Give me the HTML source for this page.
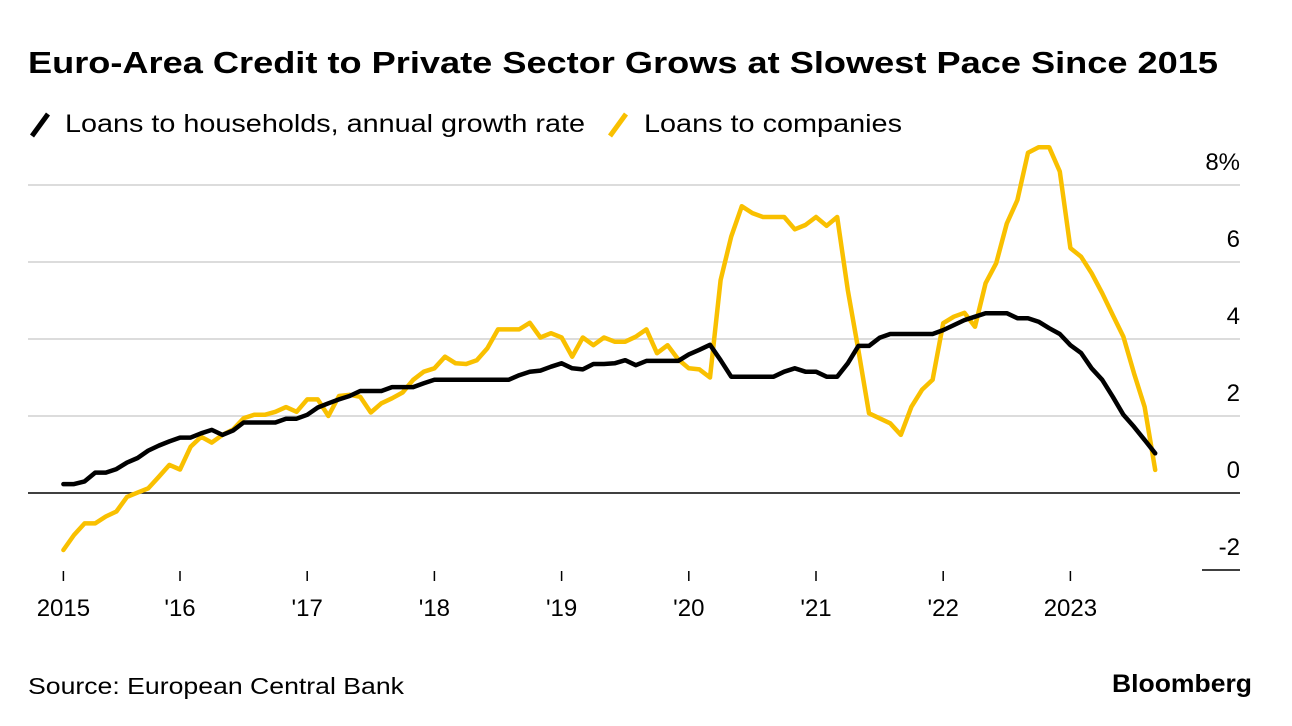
<!DOCTYPE html>
<html><head><meta charset="utf-8"><style>
html,body{margin:0;padding:0;background:#fff;}
svg{display:block;font-family:"Liberation Sans",Arial,sans-serif;}
</style></head><body>
<svg id="chart" width="1292" height="726" viewBox="0 0 1292 726" xmlns="http://www.w3.org/2000/svg">
<text x="28" y="73" font-size="31" font-weight="bold" fill="#000" textLength="1190" lengthAdjust="spacingAndGlyphs">Euro-Area Credit to Private Sector Grows at Slowest Pace Since 2015</text>
<g>
<line x1="32" y1="136" x2="48" y2="114" stroke="#000" stroke-width="5"/>
<text x="65" y="132" font-size="25" fill="#000" textLength="520" lengthAdjust="spacingAndGlyphs">Loans to households, annual growth rate</text>
<line x1="610" y1="136" x2="626" y2="114" stroke="#f9c000" stroke-width="5"/>
<text x="644" y="132" font-size="25" fill="#000" textLength="258" lengthAdjust="spacingAndGlyphs">Loans to companies</text>
</g>
<g id="grid"></g>
<g id="xaxis"></g>
<g id="series"></g>
<text x="28" y="694" font-size="23" fill="#000" textLength="376" lengthAdjust="spacingAndGlyphs">Source: European Central Bank</text>
<text x="1252" y="692" font-size="25" font-weight="bold" fill="#000" text-anchor="end" textLength="140" lengthAdjust="spacingAndGlyphs">Bloomberg</text>
</svg>
<script>
const households = [0.23,0.23,0.30,0.53,0.53,0.62,0.79,0.91,1.10,1.23,1.34,1.44,1.44,1.55,1.64,1.51,1.62,1.83,1.83,1.83,1.83,1.93,1.93,2.03,2.22,2.33,2.43,2.52,2.65,2.65,2.65,
2.75,2.75,2.75,2.85,2.94,2.94,2.94,2.94,2.94,2.94,2.94,2.94,3.06,3.15,3.18,3.28,3.37,3.24,3.21,3.35,3.35,3.37,3.45,3.32,3.43,3.43,3.43,3.43,
3.60,3.72,3.85,
3.45,3.02,3.02,3.02,3.02,3.02,3.15,3.24,3.15,3.15,3.02,3.02,3.37,3.82,3.82,4.03,4.13,4.13,4.13,4.13,4.13,4.23,
4.36,4.49,4.58,4.67,4.67,4.67,4.54,4.54,4.45,4.28,4.13,3.84,3.64,3.24,2.94,2.50,2.03,1.72,1.38,1.03];
const companies = [-1.48,-1.09,-0.79,-0.79,-0.61,-0.48,-0.10,0.01,0.12,0.42,0.73,0.61,1.20,1.46,1.31,1.51,1.65,1.94,2.03,2.03,2.11,2.23,2.11,2.43,2.43,2.00,2.52,2.55,2.50,2.09,2.33,
2.46,2.61,2.94,3.15,3.24,3.54,3.37,3.35,3.45,3.76,4.25,4.25,4.25,4.42,4.04,4.15,4.04,3.54,4.04,3.84,4.04,3.93,3.93,4.06,4.25,3.63,3.84,3.47,
3.24,3.21,3.00,
5.53,6.66,7.45,7.27,7.17,7.17,7.17,6.85,6.96,7.17,6.94,7.17,5.27,3.71,2.07,1.94,1.81,1.51,2.24,2.68,2.94,4.41,
4.58,4.68,4.32,5.45,5.97,7.00,7.61,8.84,8.98,8.98,8.35,6.36,6.14,5.71,5.19,4.62,4.06,3.11,2.24,0.60];
const yTicks = [8,6,4,2,0,-2];
const yTickLabels = ["8%","6","4","2","0","-2"];
const xTickIndex = [0,11,23,35,47,59,71,83,95];
const xTickLabels = ["2015","'16","'17","'18","'19","'20","'21","'22","2023"];

const NS = "http://www.w3.org/2000/svg";
function xScale(i){ return 63.4 + i*10.6; }
function yScale(v){ return 493 - v*38.5; }
function mk(tag, attrs, parent){ const e=document.createElementNS(NS,tag); for(const k in attrs) e.setAttribute(k,attrs[k]); parent.appendChild(e); return e; }

const grid = document.getElementById('grid');
yTicks.forEach((t,k)=>{
  const y = yScale(t);
  let ln;
  if (t===0) ln = mk('line',{x1:28,x2:1240,y1:y,y2:y,stroke:'#000','stroke-width':1.6},grid);
  else if (t===-2) ln = mk('line',{x1:1202,x2:1240,y1:y,y2:y,stroke:'#000','stroke-width':1.6},grid);
  else ln = mk('line',{x1:28,x2:1240,y1:y,y2:y,stroke:'#dcdcdc','stroke-width':2},grid);
  
  
  const tx = mk('text',{x:1240,y:y-15,'font-size':24,'text-anchor':'end',fill:'#000'},grid);
  tx.textContent = yTickLabels[k];
  
  
});

const xa = document.getElementById('xaxis');
xTickIndex.forEach((idx,k)=>{
  const x = xScale(idx);
  const tk = mk('line',{x1:x,x2:x,y1:571,y2:581,stroke:'#000','stroke-width':1.5},xa);
  
  
  const tx = mk('text',{x:x,y:616,'font-size':24,'text-anchor':'middle',fill:'#000'},xa);
  tx.textContent = xTickLabels[k];
  
  
});

const sg = document.getElementById('series');
function line(data, color, name){
  const d = data.map((v,i)=>(i?'L':'M')+xScale(i).toFixed(1)+','+yScale(v).toFixed(1)).join('');
  const p = mk('path',{d:d,fill:'none',stroke:color,'stroke-width':4.5,'stroke-linejoin':'round','stroke-linecap':'round'},sg);
  
  
}
line(companies,'#f9c000','companies-line');
line(households,'#000','households-line');
</script>
</body></html>
